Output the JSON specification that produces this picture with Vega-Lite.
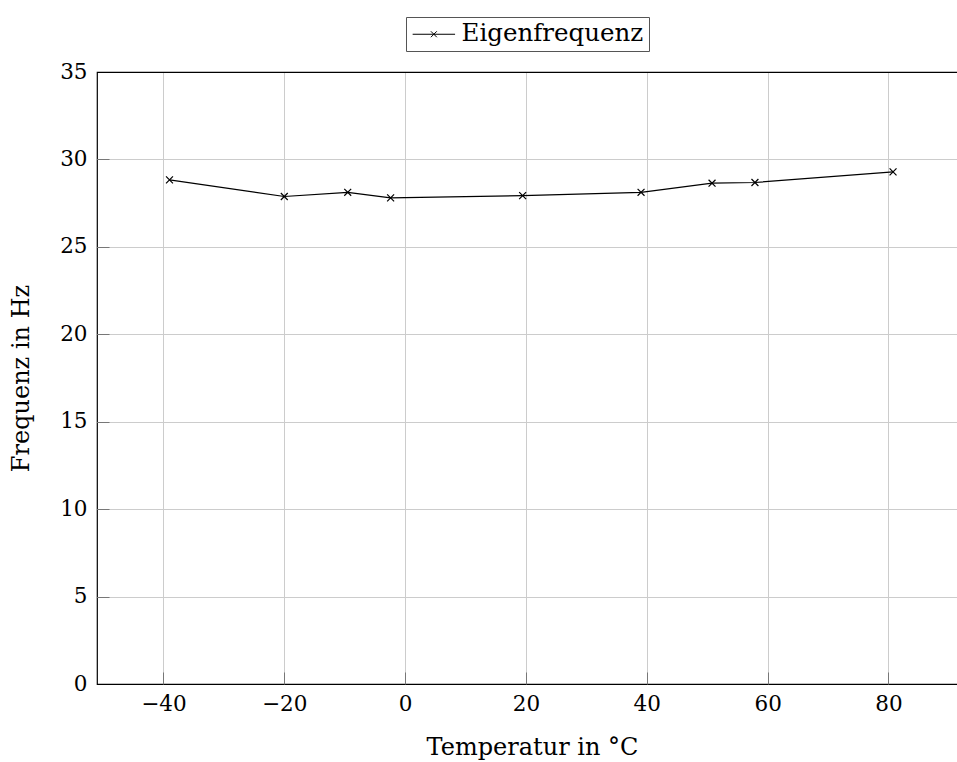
{
  "$schema": "https://vega.github.io/schema/vega-lite/v6.json",
  "width": 870,
  "height": 612,
  "autosize": {"type": "none"},
  "padding": {"left": 97, "top": 72, "right": 0, "bottom": 78},
  "background": "white",
  "config": {
    "font": "DejaVu Serif",
    "view": {"stroke": "black", "strokeWidth": 1.2},
    "axis": {
      "labelFont": "DejaVu Serif",
      "titleFont": "DejaVu Serif",
      "labelFontSize": 21.5,
      "titleFontSize": 24,
      "titleFontWeight": "normal",
      "labelColor": "black",
      "titleColor": "black",
      "gridColor": "#cccccc",
      "gridWidth": 1,
      "domain": false,
      "ticks": true,
      "tickSize": -12,
      "tickColor": "#777777",
      "tickWidth": 1
    },
    "axisY": {
      "gridColor": {"condition": {"test": "datum.value == 0 || datum.value == 35", "value": "black"}, "value": "#cccccc"},
      "tickColor": {"condition": {"test": "datum.value == 0 || datum.value == 35", "value": "black"}, "value": "#777777"}
    }
  },
  "data": {
    "values": [
      {"T": -39.0, "f": 28.83, "series": "Eigenfrequenz"},
      {"T": -20.0, "f": 27.88, "series": "Eigenfrequenz"},
      {"T": -9.5, "f": 28.12, "series": "Eigenfrequenz"},
      {"T": -2.4, "f": 27.80, "series": "Eigenfrequenz"},
      {"T": 19.45, "f": 27.93, "series": "Eigenfrequenz"},
      {"T": 39.05, "f": 28.12, "series": "Eigenfrequenz"},
      {"T": 50.8, "f": 28.64, "series": "Eigenfrequenz"},
      {"T": 57.9, "f": 28.68, "series": "Eigenfrequenz"},
      {"T": 80.76, "f": 29.29, "series": "Eigenfrequenz"}
    ]
  },
  "layer": [
    {
      "mark": {"type": "line", "strokeWidth": 1.2},
      "encoding": {
        "x": {
          "field": "T", "type": "quantitative",
          "scale": {"domain": [-51, 93], "nice": false, "zero": false},
          "axis": {"values": [-40, -20, 0, 20, 40, 60, 80], "title": "Temperatur in °C", "labelPadding": 21, "titlePadding": 21}
        },
        "y": {
          "field": "f", "type": "quantitative",
          "scale": {"domain": [0, 35], "nice": false},
          "axis": {"values": [0, 5, 10, 15, 20, 25, 30, 35], "title": "Frequenz in Hz", "labelPadding": 22, "titlePadding": 26}
        },
        "color": {
          "field": "series", "type": "nominal",
          "scale": {"range": ["black"]},
          "legend": {
            "title": null,
            "orient": "none",
            "legendX": 309,
            "legendY": -55,
            "fillColor": "white",
            "strokeColor": "#555555",
            "padding": 5,
            "labelFont": "DejaVu Serif",
            "labelFontSize": 24.5,
            "labelLimit": 0,
            "labelColor": "black",
            "symbolType": "M-1,0L3,0M0.72,-0.28L1.28,0.28M0.72,0.28L1.28,-0.28",
            "symbolSize": 450,
            "symbolStrokeWidth": 1,
            "symbolStrokeColor": "black",
            "labelOffset": 26
          }
        }
      }
    },
    {
      "mark": {"type": "point", "shape": "M-1,-1L1,1M-1,1L1,-1", "size": 48, "stroke": "black", "strokeWidth": 1.2, "filled": false, "opacity": 1},
      "encoding": {
        "x": {"field": "T", "type": "quantitative"},
        "y": {"field": "f", "type": "quantitative"}
      }
    }
  ]
}
